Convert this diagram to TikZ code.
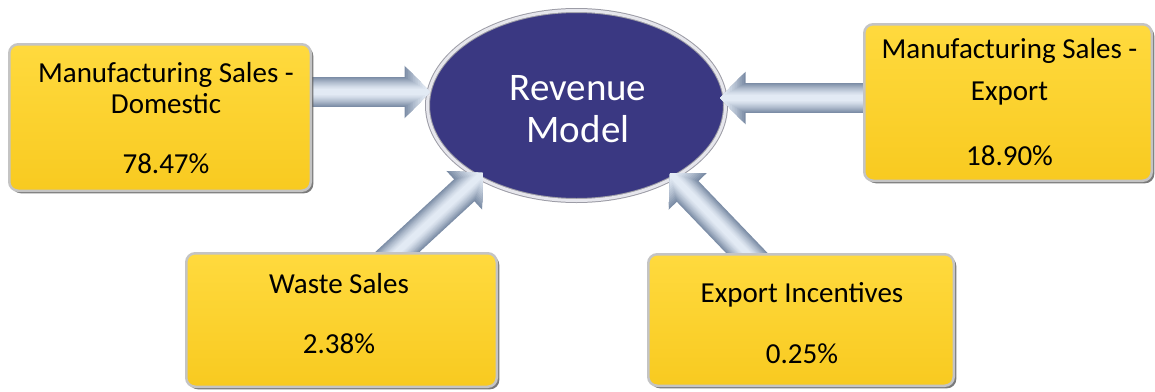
\documentclass[tikz,border=0pt]{standalone}
\usepackage{fontspec}
\setmainfont{Carlito}
\usetikzlibrary{arrows.meta,shapes.geometric,shadows,calc}
\definecolor{boxtop}{HTML}{FFDA3E}
\definecolor{boxbot}{HTML}{F8CA20}
\definecolor{boxrim}{HTML}{C4C4C4}
\definecolor{revfill}{HTML}{3A3882}
\definecolor{revrim}{HTML}{9C9CA6}
\definecolor{revrimin}{HTML}{E6E6EC}
\definecolor{arrdark}{HTML}{7C8DA6}
\definecolor{arrlight}{HTML}{E2EAF4}
\pgfdeclarelayer{back}
\pgfdeclarelayer{mid}
\pgfsetlayers{back,mid,main}
\tikzset{
  ybox/.style={rectangle, rounded corners=9pt, top color=boxtop, bottom color=boxbot,
    draw=boxrim, line width=2.5pt, inner sep=0pt, outer sep=0pt,
    drop shadow={shadow xshift=2.5pt, shadow yshift=-2.5pt, fill=black!65, opacity=0.8}},
  btxt/.style={anchor=base, inner sep=0pt, font=\fontsize{29}{31}\selectfont, text=black},
  rtxt/.style={anchor=base, inner sep=0pt, font=\fontsize{39}{42}\selectfont, text=white},
  arrlayer/.style={line width=#1pt, -{Triangle[length=#1*0.85pt, width=#1*1.7pt]}},
}
\begin{document}
\begin{tikzpicture}[x=1pt,y=1pt]
\useasboundingbox (0,0) rectangle (1155,-391);
% central ellipse
\begin{pgfonlayer}{back}
\node[ellipse, minimum width=298pt, minimum height=190pt, inner sep=0pt, outer sep=0pt,
  fill=revfill, draw=revrim, double=revrimin, double distance=3pt, line width=1pt]
  (rev) at (576.5,-105.5) {};
\end{pgfonlayer}
\node[rtxt] (rev1) at (578,-100) {Revenue};
\node[rtxt] (rev2) at (578,-142) {Model};
% boxes
\node[ybox, minimum width=301.5pt, minimum height=146.5pt] (dom) at (160,-117.5) {};
\node[ybox, minimum width=287.5pt, minimum height=156.5pt] (exp) at (1008,-102.5) {};
\node[ybox, minimum width=310.5pt, minimum height=133.5pt] (waste) at (341.5,-320) {};
\node[ybox, minimum width=305.5pt, minimum height=131.5pt] (inc) at (801,-320) {};
% box texts
\node[btxt] (d1) at (166,-82) {Manufacturing Sales -};
\node[btxt] (d2) at (166,-113) {Domestic};
\node[btxt] (d3) at (166,-173) {78.47\%};
\node[btxt] (e1) at (1009.5,-58) {Manufacturing Sales -};
\node[btxt] (e2) at (1009.5,-100) {Export};
\node[btxt] (e3) at (1009.5,-165) {18.90\%};
\node[btxt] (w1) at (339,-293) {Waste Sales};
\node[btxt] (w2) at (339,-353) {2.38\%};
\node[btxt] (i1) at (802,-302) {Export Incentives};
\node[btxt] (i2) at (802,-363) {0.25\%};
% arrow end points
\coordinate (s1) at ([yshift=25.5pt]dom.east);
\coordinate (t1) at ([shift={(-146.5,13.5)}]rev.center);
\coordinate (s2) at ([yshift=4.5pt]exp.west);
\coordinate (t2) at ([shift={(143.5,7.5)}]rev.center);
\coordinate (s3) at ([xshift=54.5pt]waste.north);
\coordinate (t3) at ([shift={(-93.5,-67.5)}]rev.center);
\coordinate (s4) at ([xshift=-53pt]inc.north);
\coordinate (t4) at ([shift={(93.5,-67.5)}]rev.center);
\begin{pgfonlayer}{mid}
\foreach \i in {1,2,3,4}{
  \foreach \w/\c in {30/0,28/10,26/20,24/30,22/40,20/50,18/58,16/66,14/74,12/82,10/88,8/94,6/100}{
    \draw[arrlayer=\w, draw=arrlight!\c!arrdark, fill=arrlight!\c!arrdark]
      ($(s\i)!-15pt!(t\i)$) -- (t\i);
  }
}
\end{pgfonlayer}
\end{tikzpicture}
\end{document}
